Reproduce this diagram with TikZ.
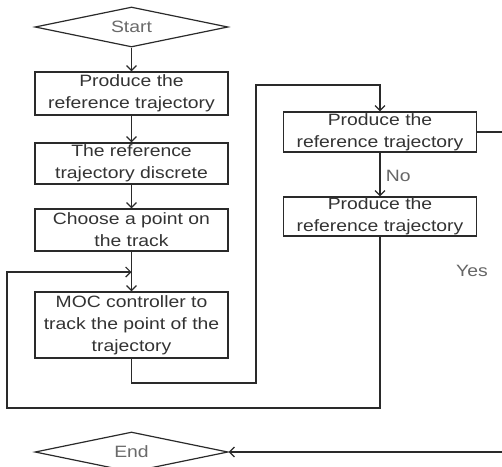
\documentclass[tikz,border=0pt]{standalone}
\usepackage{fontspec}
\newfontfamily\boxfont[FakeStretch=1.18]{Liberation Sans}
\usetikzlibrary{shapes.geometric,arrows.meta}
\definecolor{linec}{HTML}{2A2A2A}
\definecolor{textc}{HTML}{333333}
\definecolor{termc}{HTML}{6A6A6A}
\definecolor{labc}{HTML}{666666}
\begin{document}
\begin{tikzpicture}[x=1pt,y=-1pt,
  proc/.style={draw=linec, line width=1.2pt, minimum width=193pt, inner sep=0pt, align=center,
    font=\boxfont\fontsize{16.4}{22}\selectfont, text=textc},
  term/.style={diamond, draw=linec, line width=1.2pt, aspect=4.8, minimum width=193pt, minimum height=40pt,
    inner sep=0pt, font=\boxfont\fontsize{16.4}{22}\selectfont, text=termc},
  lab/.style={font=\boxfont\fontsize{16.4}{22}\selectfont, text=labc},
  ln/.style={draw=linec, line width=1.2pt},
  arr/.style={ln, -{Straight Barb[length=5pt,width=10pt]}}]
\useasboundingbox (0,0) rectangle (502,466);
\clip (0,0) rectangle (502,466);
\fill[white] (0,0) rectangle (502,466);

\node[term] (start) at (131.5,27) {Start};
\node[proc, minimum height=43pt] (b1) at (131.5,93.5) {Produce the\\reference trajectory};
\node[proc, minimum height=41pt] (b2) at (131.5,163.5) {The reference\\trajectory discrete};
\node[proc, minimum height=42pt] (b3) at (131.5,230) {Choose a point on\\the track};
\node[proc, minimum height=66pt] (b4) at (131.5,325) {MOC controller to\\track the point of the\\trajectory};
\node[proc, minimum height=40pt] (b5) at (380,132) {Produce the\\reference trajectory};
\node[proc, minimum height=39pt] (b6) at (380,216.5) {Produce the\\reference trajectory};
\node[term] (end) at (131.5,452) {End};
\node[lab] (yes) at (472,271) {Yes};

\coordinate (j) at (131.5,272);
\coordinate (lb) at (7,408);
\coordinate (c1) at (256,383);
\coordinate (c2) at (256,85);
\coordinate (r2) at (520,452);

\draw[arr] (start) -- (b1);
\draw[arr] (b1) -- (b2);
\draw[arr] (b2) -- (b3);
\draw[arr] (b3) -- (b4);
\draw[arr] (b6.south) |- (lb) |- (j);
\draw[arr] (b4.south) |- (c1) -- (c2) -| (b5.north);
\draw[arr] (b5) -- node[lab, right, xshift=2pt, yshift=-1pt] (no) {No} (b6);
\draw[arr] (b5.east) -| (r2) -- (end.east);
\end{tikzpicture}
\end{document}
